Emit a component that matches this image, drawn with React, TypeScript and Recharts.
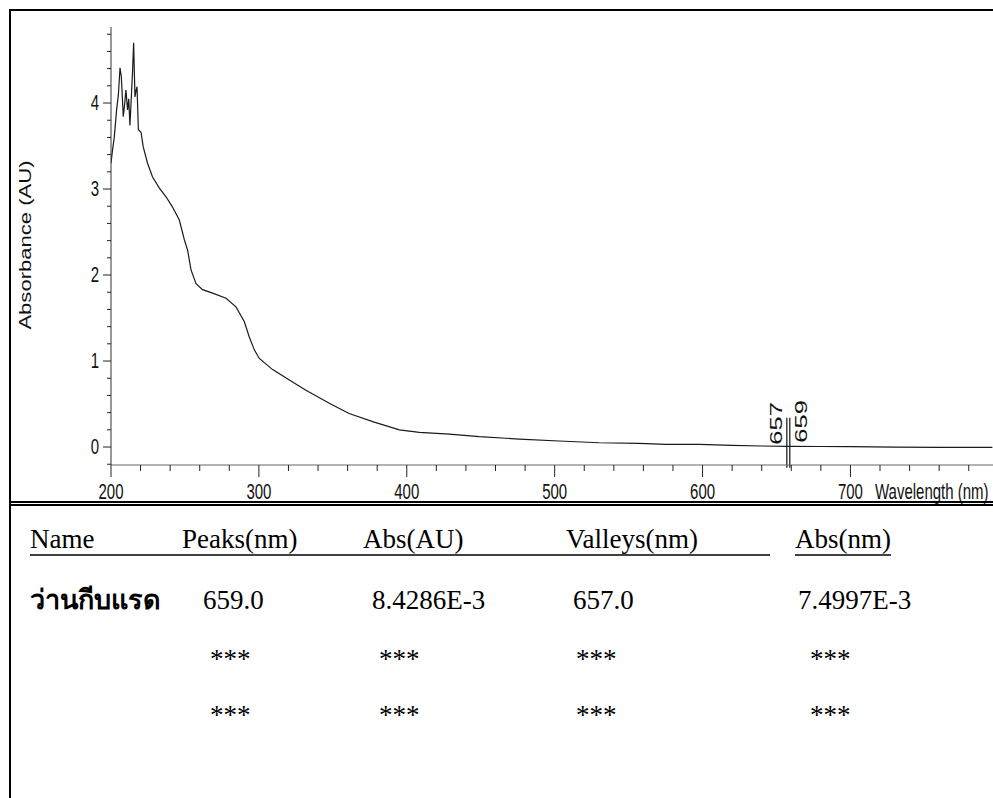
import React from 'react';
import { LineChart, Line, XAxis, YAxis, ReferenceLine } from 'recharts';

// spectrum (nm, AU)
const wavelength = [
  200, 201, 202.2, 203.8, 205, 206.1, 207, 208.3, 209, 210.1, 211.2, 212, 212.8, 213.7, 214.6,
  215.3, 216.2, 217, 217.6, 218.5, 220.3, 221.8, 224.7, 228.1, 232.7, 237.2, 241.6, 246.2,
  249.6, 251.8, 254.1, 257.5, 261.9, 268.7, 277.8, 284.5, 290.1, 293.5, 296.9, 300.3, 309.3,
  320.6, 331.8, 347.6, 361, 378, 395, 408.5, 428.7, 449, 476, 503, 530, 557, 575, 598, 620,
  640, 657, 659, 680, 700, 730, 760, 796,
];
const absorbance = [
  3.3, 3.45, 3.6, 3.92, 4.1, 4.41, 4.3, 3.84, 3.95, 4.15, 3.92, 4.05, 3.74, 4.05, 4.38,
  4.7, 4.07, 4.15, 4.19, 3.69, 3.66, 3.49, 3.3, 3.14, 3.01, 2.91, 2.79, 2.64,
  2.41, 2.29, 2.06, 1.9, 1.83, 1.79, 1.73, 1.63, 1.46, 1.28, 1.13, 1.03, 0.9,
  0.78, 0.66, 0.51, 0.39, 0.29, 0.2, 0.17, 0.15, 0.12, 0.093, 0.07, 0.05, 0.042, 0.03, 0.03, 0.02,
  0.012, 0.0075, 0.0084, 0.006, 0.005, 0.0, -0.003, -0.005,
];

const xTicks = [
  200, 220, 240, 260, 280, 300, 320, 340, 360, 380, 400, 420, 440, 460, 480, 500, 520, 540,
  560, 580, 600, 620, 640, 660, 680, 700, 720, 740, 760, 780,
];
const xLabels = [200, 300, 400, 500, 600, 700];
const yTicks = [
  -0.2, 0, 0.2, 0.4, 0.6, 0.8, 1, 1.2, 1.4, 1.6, 1.8, 2, 2.2, 2.4, 2.6, 2.8, 3, 3.2, 3.4, 3.6,
  3.8, 4, 4.2, 4.4, 4.6, 4.8,
];
const yLabels = [0, 1, 2, 3, 4];

const valleyMark = 657;
const peakMark = 659;

const headers = ['Name', 'Peaks(nm)', 'Abs(AU)', 'Valleys(nm)', 'Abs(nm)'];
const sampleRow = ['ว่านกีบแรด', '659.0', '8.4286E-3', '657.0', '7.4997E-3'];
const emptyRow = ['***', '***', '***', '***'];

const data = wavelength.map((w, i) => ({ w, a: absorbance[i] }));

const SANS = 'Liberation Sans, Arial, sans-serif';
const SERIF = 'Liberation Serif, Times New Roman, serif';
const STRETCH = 1.45;

const XTick = (props: any) => {
  const { x, y, payload } = props;
  const v = payload.value;
  const major = xLabels.includes(v);
  return (
    <g>
      <line x1={x} x2={x} y1={y} y2={y + (major ? 12 : 6)} stroke="#222" strokeWidth={1} />
      {major && (
        <text
          transform={`translate(${x},${y + 34}) scale(1,${STRETCH})`}
          textAnchor="middle"
          fontSize={15}
          fontFamily={SANS}
          fill="#111"
        >
          {v}
        </text>
      )}
    </g>
  );
};

const YTick = (props: any) => {
  const { x, y, payload } = props;
  const v = payload.value;
  const major = yLabels.includes(v);
  return (
    <g>
      <line x1={x - (major ? 8 : 4)} x2={x} y1={y} y2={y} stroke="#222" strokeWidth={1} />
      {major && (
        <text
          transform={`translate(${x - 12},${y + 7}) scale(1,${STRETCH})`}
          textAnchor="end"
          fontSize={15}
          fontFamily={SANS}
          fill="#111"
        >
          {v}
        </text>
      )}
    </g>
  );
};

const markLabel = (text: string, dx: number, dy: number) => (props: any) => {
  const vb = props.viewBox || {};
  return (
    <text
      transform={`translate(${vb.x + dx},${vb.y + dy}) rotate(-90) scale(1.6,1)`}
      fontSize={16}
      fontFamily={SANS}
      fill="#111"
    >
      {text}
    </text>
  );
};

const Spectrum = () => (
  <LineChart
    width={993}
    height={520}
    data={data}
    margin={{ top: 27, right: 0, left: 51, bottom: 15 }}
  >
    <XAxis
      dataKey="w"
      type="number"
      domain={[200, 796.4]}
      allowDataOverflow
      ticks={xTicks}
      interval={0}
      tickSize={0}
      tickMargin={0}
      height={40}
      tick={<XTick />}
      axisLine={{ stroke: '#666', strokeWidth: 1 }}
    />
    <YAxis
      type="number"
      domain={[-0.209, 4.884]}
      allowDataOverflow
      ticks={yTicks}
      interval={0}
      tickSize={0}
      tickMargin={0}
      width={60}
      tick={<YTick />}
      axisLine={{ stroke: '#333', strokeWidth: 1 }}
    />
    <ReferenceLine
      segment={[{ x: valleyMark, y: -0.24 }, { x: valleyMark, y: 0.34 }]}
      stroke="#111"
      strokeWidth={1.2}
      ifOverflow="visible"
      label={markLabel(String(valleyMark), -5, 27)}
    />
    <ReferenceLine
      segment={[{ x: peakMark, y: -0.24 }, { x: peakMark, y: 0.34 }]}
      stroke="#111"
      strokeWidth={1.2}
      ifOverflow="visible"
      label={markLabel(String(peakMark), 17, 25)}
    />
    <Line
      type="linear"
      dataKey="a"
      stroke="#1a1a1a"
      strokeWidth={1.2}
      dot={false}
      isAnimationActive={false}
    />
  </LineChart>
);

// axis titles sit in their own layer over the chart
const AxisTitles = () => (
  <svg width={993} height={520} style={{ position: 'absolute', left: 0, top: 0, pointerEvents: 'none' }}>
    <text
      transform={`translate(31,245) rotate(-90) scale(1.38,1)`}
      textAnchor="middle"
      fontSize={16}
      fontFamily={SANS}
      fill="#111"
    >
      Absorbance (AU)
    </text>
    <text
      transform={`translate(875,499) scale(1,${STRETCH})`}
      fontSize={15}
      fontFamily={SANS}
      fill="#111"
    >
      Wavelength (nm)
    </text>
  </svg>
);

const headerX = [30, 182, 363, 566, 795];
const sampleX = [30, 203, 372, 573, 798];
const emptyX = [210, 379, 576, 810];

const PeakTable = () => (
  <svg width={993} height={798} style={{ position: 'absolute', left: 0, top: 0 }}>
    {headers.map((h, i) => (
      <text key={h} x={headerX[i]} y={548} fontSize={27} fontFamily={SERIF} fill="#000">
        {h}
      </text>
    ))}
    <line x1={30} x2={770} y1={555} y2={555} stroke="#000" strokeWidth={1.5} />
    <line x1={795} x2={891} y1={555} y2={555} stroke="#000" strokeWidth={1.5} />
    {sampleRow.map((t, i) => (
      <text
        key={i}
        x={sampleX[i]}
        y={609}
        fontSize={27}
        fontWeight={i === 0 ? 'bold' : 'normal'}
        fontFamily={SERIF}
        fill="#000"
      >
        {t}
      </text>
    ))}
    {[668, 724].map((by) =>
      emptyRow.map((t, i) => (
        <text key={`${by}-${i}`} x={emptyX[i]} y={by} fontSize={27} fontFamily={SERIF} fill="#000">
          {t}
        </text>
      ))
    )}
  </svg>
);

export default function App() {
  return (
    <div
      style={{
        position: 'absolute',
        left: 0,
        top: 0,
        width: 993,
        height: 798,
        overflow: 'hidden',
        background: '#fff',
      }}
    >
      {/* outer frame: left + top only, right/bottom run off the page */}
      <div style={{ position: 'absolute', left: 9, top: 9, width: 2, height: 790, background: '#000' }} />
      <div style={{ position: 'absolute', left: 9, top: 9, width: 984, height: 2, background: '#000' }} />
      <div style={{ position: 'absolute', left: 0, top: 0 }}>
        <Spectrum />
      </div>
      <AxisTitles />
      {/* double rule under the spectrum */}
      <div style={{ position: 'absolute', left: 11, top: 501, width: 982, height: 1.5, background: '#000' }} />
      <div style={{ position: 'absolute', left: 11, top: 504, width: 982, height: 1.5, background: '#000' }} />
      <PeakTable />
    </div>
  );
}
